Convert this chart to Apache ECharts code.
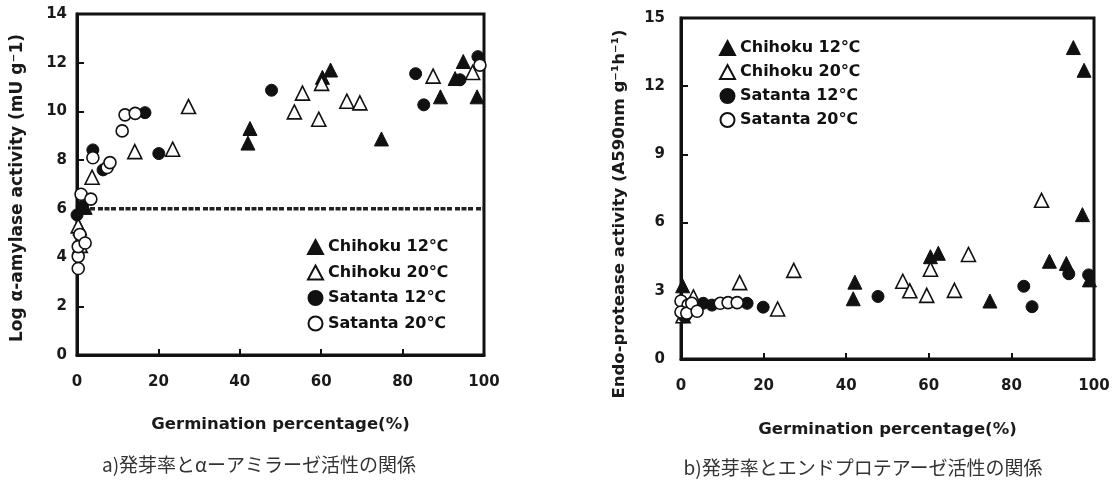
<!DOCTYPE html>
<html>
<head>
<meta charset="utf-8">
<script src="https://cdn.jsdelivr.net/npm/echarts@6/dist/echarts.min.js"></script>
<style>
  html, body { margin: 0; padding: 0; background: #fff; }
  #chart { width: 1117px; height: 482px; }
</style>
</head>
<body>
<div id="chart"></div>
<script>
// Series names shared by both panels
const seriesNames = ['Chihoku 12℃', 'Chihoku 20℃', 'Satanta 12℃', 'Satanta 20℃'];

// Panel a: germination percentage (%) vs log alpha-amylase activity
const chihoku12A = [[0.7,5.2],[2,6.06],[42,8.7],[42.5,9.3],[60.3,11.4],[62.3,11.7],[74.8,8.87],[89.3,10.6],[92.9,11.35],[94.9,12.05],[98.3,10.6]];
const chihoku20A = [[0.3,5.3],[0.8,4.5],[3.7,7.3],[14.2,8.35],[23.5,8.45],[27.4,10.2],[53.4,9.98],[55.4,10.75],[59.4,9.68],[60.1,11.15],[66.3,10.42],[69.5,10.35],[87.5,11.45],[97.2,11.6]];
const satanta12A = [[0,5.75],[1.3,6.1],[3.9,8.42],[6.4,7.6],[16.7,9.95],[20.1,8.27],[47.8,10.87],[83.2,11.55],[85.2,10.27],[94.1,11.3],[98.5,12.25]];
const satanta20A = [[0.3,3.55],[0.3,4.05],[0.3,4.45],[0.7,4.95],[2,4.6],[1,6.6],[3.4,6.4],[3.9,8.1],[7.4,7.7],[8.1,7.9],[11.1,9.2],[11.8,9.86],[14.3,9.92],[99,11.9]];
const thresholdA = 6;

// Panel b: germination percentage (%) vs endo-protease activity
const chihoku12B = [[0.4,3.22],[41.7,2.65],[42.1,3.38],[60.4,4.5],[62.3,4.65],[74.8,2.55],[89.2,4.3],[93.3,4.2],[95,13.7],[97.2,6.35],[97.6,12.7],[98.9,3.48]];
const chihoku20B = [[0.5,1.9],[3,2.73],[14.2,3.36],[23.4,2.2],[27.3,3.9],[53.7,3.42],[55.4,3.0],[59.5,2.8],[60.4,3.95],[66.2,3.02],[69.6,4.6],[87.3,6.98]];
const satanta12B = [[0.9,1.85],[5.4,2.45],[7.5,2.37],[16,2.45],[19.9,2.28],[47.7,2.75],[83,3.2],[85,2.3],[93.9,3.75],[98.7,3.7]];
const satanta20B = [[0,2.55],[1.7,2.37],[0,2.07],[1.4,2.02],[2.6,2.45],[3.9,2.1],[9.5,2.45],[11.4,2.48],[13.6,2.48]];

// Axis ranges and tick labels
const xTicks = [0, 20, 40, 60, 80, 100];
const yTicksA = [0, 2, 4, 6, 8, 10, 12, 14];
const yTicksB = [0, 3, 6, 9, 12, 15];

const INK = '#111';
const FONT = 'DejaVu Sans';

const markerStyles = [
  { symbol: 'triangle', symbolSize: 14, itemStyle: { color: INK, borderColor: INK, borderWidth: 1, opacity: 1 } },
  { symbol: 'triangle', symbolSize: 14, itemStyle: { color: '#fff', borderColor: INK, borderWidth: 1.6, opacity: 1 } },
  { symbol: 'circle', symbolSize: 12, itemStyle: { color: INK, borderColor: INK, borderWidth: 1, opacity: 1 } },
  { symbol: 'circle', symbolSize: 12, itemStyle: { color: '#fff', borderColor: INK, borderWidth: 1.6, opacity: 1 } }
];

function scatter(idx, data, gridIdx) {
  return Object.assign({
    type: 'scatter',
    name: seriesNames[idx],
    xAxisIndex: gridIdx,
    yAxisIndex: gridIdx,
    data: data,
    z: 3 + idx
  }, markerStyles[idx]);
}

function xAxis(gridIdx) {
  return {
    type: 'value', gridIndex: gridIdx,
    min: xTicks[0], max: xTicks[xTicks.length - 1], interval: xTicks[1] - xTicks[0],
    name: 'Germination percentage(%)', nameLocation: 'middle', nameGap: gridIdx === 0 ? 61 : 62,
    nameTextStyle: { fontFamily: FONT, fontWeight: 'bold', fontSize: 16.5, color: '#1a1a1a' },
    axisLine: { show: true, lineStyle: { color: INK, width: 3 } },
    axisTick: { show: true, inside: true, length: 6, lineStyle: { color: INK, width: 2 } },
    axisLabel: { margin: 20, fontFamily: FONT, fontWeight: 'bold', fontSize: 15, color: '#1a1a1a' },
    splitLine: { show: false }
  };
}

function yAxis(gridIdx, ticks, margin) {
  return {
    type: 'value', gridIndex: gridIdx,
    min: ticks[0], max: ticks[ticks.length - 1], interval: ticks[1] - ticks[0],
    axisLine: { show: true, lineStyle: { color: INK, width: 3 } },
    axisTick: { show: true, inside: true, length: 7, lineStyle: { color: INK, width: 2 } },
    axisLabel: { margin: margin, fontFamily: FONT, fontWeight: 'bold', fontSize: 15, color: '#1a1a1a' },
    splitLine: { show: false }
  };
}

const legendText = { fontFamily: FONT, fontWeight: 'bold', fontSize: 16, color: INK };

const option = {
  backgroundColor: '#fff',
  animation: false,
  grid: [
    { left: 77, top: 14, width: 407, height: 341, show: true, borderColor: INK, borderWidth: 3 },
    { left: 681, top: 18, width: 413, height: 341, show: true, borderColor: INK, borderWidth: 3 }
  ],
  xAxis: [xAxis(0), xAxis(1)],
  yAxis: [yAxis(0, yTicksA, 10), yAxis(1, yTicksB, 16)],
  legend: [
    {
      data: seriesNames, orient: 'vertical', left: 302, top: 234,
      itemWidth: 15, itemHeight: 14, itemGap: 9.5, textStyle: legendText, selectedMode: false
    },
    {
      data: seriesNames, orient: 'vertical', left: 714, top: 35,
      itemWidth: 15, itemHeight: 14, itemGap: 8, textStyle: legendText, selectedMode: false
    }
  ],
  graphic: [
    {
      type: 'text', x: 18, y: 188, rotation: Math.PI / 2,
      style: { text: 'Log α-amylase activity (mU g⁻1)', fontFamily: FONT, fontWeight: 'bold', fontSize: 17,
        fill: '#1a1a1a', align: 'center', verticalAlign: 'middle' }
    },
    {
      type: 'text', x: 620, y: 214, rotation: Math.PI / 2,
      style: { text: 'Endo-protease activity (A590nm g⁻¹h⁻¹)', fontFamily: FONT, fontWeight: 'bold', fontSize: 16.5,
        fill: '#1a1a1a', align: 'center', verticalAlign: 'middle' }
    },
    {
      type: 'text', x: 259, y: 465,
      style: { text: 'a)発芽率とαーアミラーゼ活性の関係', fontFamily: 'Noto Sans CJK JP', fontSize: 19,
        fill: '#333', align: 'center', verticalAlign: 'middle' }
    },
    {
      type: 'text', x: 863, y: 468,
      style: { text: 'b)発芽率とエンドプロテアーゼ活性の関係', fontFamily: 'Noto Sans CJK JP', fontSize: 19,
        fill: '#333', align: 'center', verticalAlign: 'middle' }
    }
  ],
  series: [
    {
      type: 'line', name: 'threshold', xAxisIndex: 0, yAxisIndex: 0,
      data: [[xTicks[0], thresholdA], [xTicks[xTicks.length - 1], thresholdA]],
      symbol: 'none', silent: true, z: 2,
      lineStyle: { color: '#222', width: 3.5, type: [5, 1.5, 5, 1.5, 5, 3] }
    },
    scatter(0, chihoku12A, 0),
    scatter(1, chihoku20A, 0),
    scatter(2, satanta12A, 0),
    scatter(3, satanta20A, 0),
    scatter(0, chihoku12B, 1),
    scatter(1, chihoku20B, 1),
    scatter(2, satanta12B, 1),
    scatter(3, satanta20B, 1)
  ]
};

const chart = echarts.init(document.getElementById('chart'), null, { renderer: 'canvas' });
chart.setOption(option);
</script>
</body>
</html>
